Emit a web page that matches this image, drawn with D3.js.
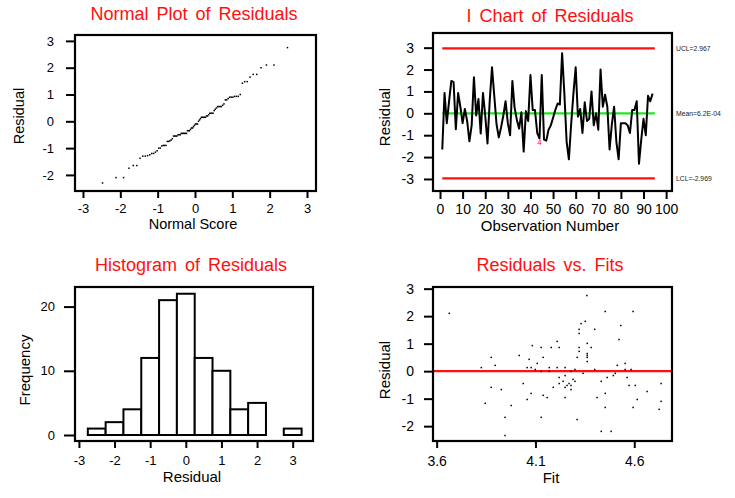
<!DOCTYPE html>
<html>
<head>
<meta charset="utf-8">
<script src="https://cdn.jsdelivr.net/npm/d3@7"></script>
<style>
  body { margin: 0; background: #fff; }
  text { font-family: Arial, "Liberation Sans", sans-serif; fill: #000; }
</style>
</head>
<body>
<div id="chart"></div>
<script>
// residuals in observation order
var residuals = [
  -1.65, 0.93, -0.45, 0.55, 1.48, 1.42, -0.73, 0.93, 0.3, -0.45,
  0.2, -0.35, -1.28, -0.55, 1.65, -0.1, 0.65, -0.92, 0.93, -0.1,
  -1.38, 0.6, 2.1, 0.8, -0.5, -1.1, -0.65, -0.1, 0.55, -0.45,
  -1.0, 1.48, 0.25, -0.3, -0.7, 0.05, -1.75, 0.1, -0.35, 1.75,
  0.15, 0.15, -0.9, -1.15, 1.75, -1.2, -1.25, -0.75, -0.55, -0.2,
  0.15, 0.45, 0.4, 2.75, 0.9, -1.3, -2.1, -0.5, 0.9, 2.1,
  -0.15, 0.2, -0.9, 0.5, -0.35, -0.25, 1.0, -0.55, 0.0, -0.75,
  2.0, 0.3, 0.85, 0.3, -1.65, -0.5, 0.3, -1.3, -2.1, -0.45,
  -0.45, -0.45, -0.55, -0.9, 0.15, 0.15, 0.55, -2.3, -1.2, -0.25,
  -1.0, 0.8, 0.55, 0.9
];

// control limits of the I chart
var ucl = 2.967, centre = 0.00062, lcl = -2.969;
var limitLabels = ["UCL=2.967", "Mean=6.2E-04", "LCL=-2.969"];
var testFlags = [{obs: 44, label: "4"}];

// histogram bins (centre, count)
var binCenters = [-2.5, -2, -1.5, -1, -0.5, 0, 0.5, 1, 1.5, 2, 2.5, 3];
var binCounts  = [1, 2, 4, 12, 21, 22, 12, 10, 4, 5, 0, 1];

// residuals vs fits
var fits = [
  3.664, 4.360, 4.453, 4.594, 4.532, 4.331, 4.352, 4.523, 4.400, 4.321,
  4.321, 4.210, 4.084, 4.129, 4.180, 4.220, 4.321, 4.321, 4.362, 4.382,
  4.362, 4.362, 4.362, 4.362, 4.311, 4.018, 4.068, 4.139, 3.876, 3.896,
  3.826, 4.058, 4.078, 4.109, 4.099, 4.129, 4.170, 4.170, 4.210, 4.250,
  4.300, 4.400, 4.280, 4.341, 4.514, 4.554, 4.584, 4.554, 4.504, 4.494,
  4.463, 4.564, 4.433, 4.220, 4.250, 4.240, 4.220, 4.270, 4.290, 4.300,
  4.260, 4.250, 4.280, 4.280, 4.190, 4.038, 4.078, 4.058, 4.139, 4.159,
  4.250, 3.876, 3.927, 3.846, 3.977, 3.946, 3.946, 4.129, 4.311, 4.412,
  4.453, 4.453, 4.433, 4.483, 4.574, 4.605, 4.615, 4.594, 4.665, 4.736,
  4.736, 4.726
];
var fitResiduals = [
  2.10, 2.75, 2.17, 2.17, 1.66, 1.73, 1.81, 1.15, 1.52, 1.52,
  1.37, 1.08, 0.93, 0.86, 0.86, 0.86, 0.86, 0.72, 1.01, 0.86,
  0.64, 0.57, 0.50, 0.35, 0.50, 0.57, 0.43, 0.50, 0.50, 0.21,
  0.13, 0.13, 0.13, 0.28, 0.06, -0.01, 0.13, -0.01, 0.13, 0.13,
  0.06, 0.06, -0.01, -0.08, 0.21, 0.06, 0.06, 0.28, -0.08, -0.16,
  -0.23, -0.23, -0.37, -0.23, -0.16, -0.37, -0.45, -0.45, -0.30, -0.37,
  -0.52, -0.59, -0.52, -0.67, -0.59, -0.45, -0.81, -1.03, -0.88, -0.96,
  -0.96, -0.59, -0.67, -1.17, -1.25, -1.68, -2.34, -1.68, -1.76, -0.96,
  -0.81, -1.32, -2.19, -2.19, -0.52, -0.52, -1.03, -1.32, -0.74, -0.45,
  -1.10, -1.39
];

// tick values
var scoreTicks = [-3, -2, -1, 0, 1, 2, 3];
var residTicks = [-2, -1, 0, 1, 2, 3];
var obsTicks = [0, 10, 20, 30, 40, 50, 60, 70, 80, 90, 100];
var chartTicks = [-3, -2, -1, 0, 1, 2, 3];
var freqTicks = [0, 10, 20];
var fitTicks = [3.6, 4.1, 4.6];

var red = "#ff1010", green = "#1ee81e";

var svg = d3.select("#chart").append("svg")
    .attr("width", 735)
    .attr("height", 498);

// inverse standard normal cdf (Acklam's approximation)
function qnorm(p) {
  var a = [-39.69683028665376, 220.9460984245205, -275.9285104469687, 138.3577518672690, -30.66479806614716, 2.506628277459239],
      b = [-54.47609879822406, 161.5858368580409, -155.6989798598866, 66.80131188771972, -13.28068155288572],
      c = [-0.007784894002430293, -0.3223964580411365, -2.400758277161838, -2.549732539343734, 4.374664141464968, 2.938163982698783],
      d = [0.007784695709041462, 0.3224671290700398, 2.445134137142996, 3.754408661907416];
  var q, r;
  if (p < 0.02425) {
    q = Math.sqrt(-2 * Math.log(p));
    return (((((c[0]*q+c[1])*q+c[2])*q+c[3])*q+c[4])*q+c[5]) / ((((d[0]*q+d[1])*q+d[2])*q+d[3])*q+1);
  }
  if (p > 1 - 0.02425) return -qnorm(1 - p);
  q = p - 0.5; r = q * q;
  return (((((a[0]*r+a[1])*r+a[2])*r+a[3])*r+a[4])*r+a[5])*q / (((((b[0]*r+b[1])*r+b[2])*r+b[3])*r+b[4])*r+1);
}

// one framed panel with ticks outside the frame
function makePanel(p) {
  var g = svg.append("g");
  var x = d3.scaleLinear().domain(p.xDomain).range([p.left, p.right]);
  var y = d3.scaleLinear().domain(p.yDomain).range([p.bottom, p.top]);
  var fmt = function(v) { return String(v); };

  var xa = g.append("g")
      .attr("transform", "translate(0," + (p.bottom + 1) + ")")
      .call(d3.axisBottom(x).tickValues(p.xTicks).tickFormat(fmt)
            .tickSize(p.xTick[0]).tickPadding(p.xTick[1]).tickSizeOuter(0));
  var ya = g.append("g")
      .attr("transform", "translate(" + (p.left - 1) + ",0)")
      .call(d3.axisLeft(y).tickValues(p.yTicks).tickFormat(fmt)
            .tickSize(p.yTick[0]).tickPadding(p.yTick[1]).tickSizeOuter(0));
  [xa, ya].forEach(function(a) {
    a.select(".domain").remove();
    a.selectAll("line").attr("stroke", "#000").attr("stroke-width", 2);
    a.selectAll("text").attr("font-size", p.tickFont).attr("fill", "#000")
      .attr("font-family", "Arial, 'Liberation Sans', sans-serif");
  });

  // title and axis titles
  g.append("text")
      .attr("x", p.title[1]).attr("y", p.title[2])
      .attr("text-anchor", "middle")
      .attr("font-size", 18)
      .attr("word-spacing", 3)
      .style("fill", red)
      .text(p.title[0]);
  g.append("text")
      .attr("x", p.xTitle[1]).attr("y", p.xTitle[2])
      .attr("text-anchor", "middle")
      .attr("font-size", p.labelFont)
      .text(p.xTitle[0]);
  g.append("text")
      .attr("transform", "translate(" + p.yTitle[1] + "," + p.yTitle[2] + ") rotate(-90)")
      .attr("text-anchor", "middle")
      .attr("dominant-baseline", "central")
      .attr("font-size", p.labelFont)
      .text(p.yTitle[0]);

  var plot = g.append("g");
  g.append("rect")
      .attr("x", p.left).attr("y", p.top)
      .attr("width", p.right - p.left).attr("height", p.bottom - p.top)
      .attr("fill", "none").attr("stroke", "#000").attr("stroke-width", 2.2);
  return {g: plot, x: x, y: y};
}

// ---- Normal plot of residuals
var p1 = makePanel({
  left: 75, right: 316, top: 35, bottom: 191,
  xDomain: [-3.214, 3.241], yDomain: [-2.6, 3.22],
  xTicks: scoreTicks, yTicks: residTicks,
  xTick: [6, 6], yTick: [8, 12], tickFont: 13, labelFont: 14.5,
  title: ["Normal Plot of Residuals", 194, 20],
  xTitle: ["Normal Score", 193, 229],
  yTitle: ["Residual", 19, 116]
});
var sorted = residuals.slice().sort(d3.ascending);
var n = sorted.length;
p1.g.selectAll("rect")
  .data(sorted)
  .enter().append("rect")
    .attr("x", function(d, i) { return p1.x(qnorm((i + 0.625) / (n + 0.25))) - 0.75; })
    .attr("y", function(d) { return p1.y(d) - 0.75; })
    .attr("width", 1.5).attr("height", 1.5)
    .attr("fill", "#000");

// ---- I chart of residuals
var p2 = makePanel({
  left: 433, right: 672, top: 33, bottom: 191,
  xDomain: [-3.1, 102.6], yDomain: [-3.55, 3.67],
  xTicks: obsTicks, yTicks: chartTicks,
  xTick: [7, 5], yTick: [8, 10], tickFont: 14, labelFont: 15,
  title: ["I Chart of Residuals", 550, 22],
  xTitle: ["Observation Number", 550, 231],
  yTitle: ["Residual", 384, 117]
});
var limits = [ucl, centre, lcl];
p2.g.selectAll("line.limit")
  .data(limits)
  .enter().append("line")
    .attr("class", "limit")
    .attr("x1", p2.x(1)).attr("x2", p2.x(n + 1))
    .attr("y1", function(d) { return p2.y(d); })
    .attr("y2", function(d) { return p2.y(d); })
    .attr("stroke", function(d, i) { return i == 1 ? green : red; })
    .attr("stroke-width", 2.2);
p2.g.append("path")
    .datum(residuals)
    .attr("fill", "none")
    .attr("stroke", "#000")
    .attr("stroke-width", 2)
    .attr("stroke-linejoin", "round")
    .attr("d", d3.line()
      .x(function(d, i) { return p2.x(i + 1); })
      .y(function(d) { return p2.y(d); }));
p2.g.selectAll("text.flag")
  .data(testFlags)
  .enter().append("text")
    .attr("class", "flag")
    .attr("x", function(d) { return p2.x(d.obs); })
    .attr("y", function(d) { return p2.y(residuals[d.obs - 1]) + 7; })
    .attr("text-anchor", "middle")
    .attr("font-size", 8)
    .style("fill", red)
    .text(function(d) { return d.label; });
p2.g.selectAll("text.limit")
  .data(limits)
  .enter().append("text")
    .attr("class", "limit")
    .attr("x", 676)
    .attr("y", function(d) { return p2.y(d); })
    .attr("dominant-baseline", "central")
    .attr("font-size", 6.8)
    .style("fill", "#222")
    .text(function(d, i) { return limitLabels[i]; });

// ---- Histogram of residuals
var p3 = makePanel({
  left: 75, right: 313, top: 287, bottom: 441,
  xDomain: [-3.11, 3.57], yDomain: [-0.935, 23.05],
  xTicks: scoreTicks, yTicks: freqTicks,
  xTick: [6, 8], yTick: [10, 9], tickFont: 13, labelFont: 15,
  title: ["Histogram of Residuals", 191, 271],
  xTitle: ["Residual", 192, 482],
  yTitle: ["Frequency", 24, 370]
});
p3.g.selectAll("rect")
  .data(binCenters)
  .enter().append("rect")
    .attr("x", function(d) { return p3.x(d - 0.25); })
    .attr("width", function(d) { return p3.x(d + 0.25) - p3.x(d - 0.25); })
    .attr("y", function(d, i) { return p3.y(binCounts[i]); })
    .attr("height", function(d, i) { return p3.y(0) - p3.y(binCounts[i]); })
    .attr("fill", "#fff")
    .attr("stroke", "#000")
    .attr("stroke-width", 2);

// ---- Residuals vs fits
var p4 = makePanel({
  left: 433, right: 672, top: 287, bottom: 441,
  xDomain: [3.5815, 4.791], yDomain: [-2.54, 3.06],
  xTicks: fitTicks, yTicks: residTicks,
  xTick: [6, 8], yTick: [8, 10], tickFont: 14, labelFont: 15,
  title: ["Residuals vs. Fits", 550, 271],
  xTitle: ["Fit", 551, 483],
  yTitle: ["Residual", 384, 370]
});
p4.g.append("line")
    .attr("x1", p4.x.range()[0]).attr("x2", p4.x.range()[1])
    .attr("y1", p4.y(0)).attr("y2", p4.y(0))
    .attr("stroke", red).attr("stroke-width", 2.2);
p4.g.selectAll("rect")
  .data(fits)
  .enter().append("rect")
    .attr("x", function(d) { return p4.x(d) - 0.75; })
    .attr("y", function(d, i) { return p4.y(fitResiduals[i]) - 0.75; })
    .attr("width", 1.5).attr("height", 1.5)
    .attr("fill", "#000");
</script>
</body>
</html>
